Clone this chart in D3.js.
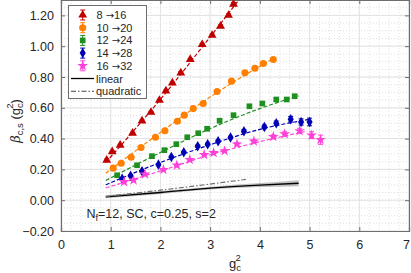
<!DOCTYPE html>
<html><head><meta charset="utf-8">
<script src="https://cdn.jsdelivr.net/npm/d3@7"></script>
<style>body{margin:0;background:#fff;}text{font-family:"Liberation Sans",Arial,sans-serif;}</style>
</head><body><svg id="c" width="411" height="273"></svg>
<script>
const seriesFrom = ["8","10","12","14","16"];
const seriesTo = ["16","20","24","28","32"];
const seriesColors = ["#c00000","#ff7f00","#1f8f1f","#0000b4","#ff40d8"];
const seriesSymbols = ["triangle","circle","square","diamond","star"];

const x816 = [0.92,1.03,1.19,1.44,1.63,1.81,1.98,2.11,2.24,2.41,2.60,2.84,3.04,3.21,3.37,3.47];
const y816 = [0.26,0.315,0.357,0.435,0.515,0.571,0.649,0.710,0.762,0.827,0.914,1.011,1.071,1.130,1.201,1.273];
const e816 = [0.008,0.006,0.006,0.006,0.006,0.006,0.006,0.006,0.006,0.007,0.007,0.008,0.008,0.009,0.009,0.01];

const x1020 = [1.05,1.21,1.41,1.61,1.90,2.09,2.34,2.48,2.66,2.86,3.14,3.43,3.70,3.90,4.07,4.27];
const y1020 = [0.208,0.240,0.279,0.342,0.409,0.451,0.513,0.552,0.595,0.628,0.706,0.773,0.827,0.857,0.888,0.914];
const e1020 = [0.005,0.005,0.005,0.005,0.005,0.005,0.005,0.006,0.006,0.006,0.006,0.007,0.007,0.008,0.008,0.009];

const x1224 = [1.13,1.53,1.83,2.08,2.32,2.54,2.76,2.94,3.19,3.47,3.79,4.05,4.33,4.54,4.70];
const y1224 = [0.162,0.227,0.286,0.325,0.364,0.409,0.435,0.464,0.516,0.552,0.610,0.628,0.654,0.654,0.675];
const e1224 = [0.005,0.005,0.005,0.005,0.005,0.005,0.006,0.006,0.006,0.007,0.008,0.009,0.01,0.01,0.012];

const x1428 = [1.23,1.40,1.63,1.96,2.22,2.47,2.75,2.95,3.16,3.41,3.68,4.09,4.33,4.62,4.83,5.00];
const y1428 = [0.140,0.159,0.188,0.231,0.281,0.312,0.351,0.364,0.383,0.407,0.448,0.476,0.500,0.526,0.508,0.508];
const e1428 = [0.005,0.005,0.005,0.006,0.006,0.006,0.007,0.007,0.008,0.008,0.01,0.012,0.014,0.018,0.02,0.025];

const x1632 = [1.27,1.46,1.69,2.06,2.33,2.59,2.88,3.07,3.29,3.54,3.88,4.27,4.50,4.80,5.04,5.22];
const y1632 = [0.119,0.130,0.169,0.198,0.227,0.263,0.295,0.308,0.320,0.364,0.383,0.412,0.430,0.450,0.422,0.393];
const e1632 = [0.005,0.005,0.005,0.006,0.006,0.006,0.007,0.007,0.008,0.009,0.01,0.012,0.014,0.017,0.022,0.03];

// fit curves (x, y)
const fitX816 = [0.9,2.0,3.0,3.6];   const fitY816 = [0.245,0.655,1.06,1.31];
const fitX1020 = [0.9,2.0,3.0,4.0,4.3]; const fitY1020 = [0.175,0.44,0.67,0.87,0.925];
const fitX1224 = [0.9,2.0,3.0,4.0,4.78]; const fitY1224 = [0.128,0.31,0.465,0.595,0.678];
const fitX1428 = [0.9,2.0,3.0,4.0,5.0]; const fitY1428 = [0.10,0.245,0.36,0.46,0.525];
const fitX1632 = [0.9,2.0,3.0,4.0,4.9]; const fitY1632 = [0.08,0.19,0.295,0.38,0.445];

const linX = [0.9,2.0,3.0,4.0,4.78]; const linY = [0.022,0.05,0.078,0.098,0.11]; const linE = [0.01,0.009,0.009,0.013,0.019];
const quadX = [0.9,2.0,3.0,3.72]; const quadY = [0.025,0.065,0.105,0.135];

const xTicks = [0,1,2,3,4,5,6,7];
const yTicks = [-0.2,0,0.2,0.4,0.6,0.8,1.0,1.2];

const series = [
  {x:x816,y:y816,e:e816,fx:fitX816,fy:fitY816},
  {x:x1020,y:y1020,e:e1020,fx:fitX1020,fy:fitY1020},
  {x:x1224,y:y1224,e:e1224,fx:fitX1224,fy:fitY1224},
  {x:x1428,y:y1428,e:e1428,fx:fitX1428,fy:fitY1428},
  {x:x1632,y:y1632,e:e1632,fx:fitX1632,fy:fitY1632}
];

const svg = d3.select("#c");
const L=61,R=409,T=0,B=231;
const x = d3.scaleLinear().domain([0,7]).range([L,R]);
const y = d3.scaleLinear().domain([-0.2,1.3]).range([B,T]);

svg.append("defs").append("clipPath").attr("id","clip").append("rect").attr("x",L).attr("y",T).attr("width",R-L).attr("height",B-T);

// minor grid
const g = svg.append("g");
g.selectAll(".mx").data(d3.range(0,7.001,0.2)).join("line")
  .attr("x1",d=>x(d)).attr("x2",d=>x(d)).attr("y1",T).attr("y2",B)
  .attr("stroke","#d8d8d8").attr("stroke-width",0.8).attr("stroke-dasharray","1,2");
g.selectAll(".my").data(d3.range(-0.2,1.3001,0.05)).join("line")
  .attr("y1",d=>y(d)).attr("y2",d=>y(d)).attr("x1",L).attr("x2",R)
  .attr("stroke","#d8d8d8").attr("stroke-width",0.8).attr("stroke-dasharray","1,2");
// major grid
g.selectAll(".Mx").data(xTicks).join("line")
  .attr("x1",d=>x(d)).attr("x2",d=>x(d)).attr("y1",T).attr("y2",B)
  .attr("stroke","#e2e2e2").attr("stroke-width",1);
g.selectAll(".My").data(yTicks.concat([1.3])).join("line")
  .attr("y1",d=>y(d)).attr("y2",d=>y(d)).attr("x1",L).attr("x2",R)
  .attr("stroke","#e2e2e2").attr("stroke-width",1);

// axes
const ax = svg.append("g").attr("transform",`translate(0,${B})`)
  .call(d3.axisBottom(x).tickValues(xTicks).tickSize(-4).tickPadding(9).tickFormat(d3.format("d")));
const ay = svg.append("g").attr("transform",`translate(${L},0)`)
  .call(d3.axisLeft(y).tickValues(yTicks).tickSize(-4).tickPadding(7).tickFormat(d=>d3.format(".2f")(d)));
const axT = svg.append("g").attr("transform",`translate(0,${T})`)
  .call(d3.axisTop(x).tickValues(xTicks).tickSize(-4).tickFormat(""));
const ayR = svg.append("g").attr("transform",`translate(${R},0)`)
  .call(d3.axisRight(y).tickValues(yTicks).tickSize(-4).tickFormat(""));
[ax,ay,axT,ayR].forEach(a=>{
  a.select(".domain").attr("stroke","#6e6e6e").attr("stroke-width",1.2);
  a.selectAll(".tick line").attr("stroke","#6e6e6e");
  a.selectAll("text").attr("font-size",12.5).attr("fill","#262626").attr("font-family","Liberation Sans, Arial, sans-serif");
});
ax.selectAll(".tick text").filter(d=>d===7).attr("dx",-3);

const plot = svg.append("g").attr("clip-path","url(#clip)");

// linear band & lines
const linData = linX.map((v,i)=>({x:v,y:linY[i],e:linE[i]}));
plot.append("path").datum(linData)
  .attr("d",d3.area().x(d=>x(d.x)).y0(d=>y(d.y-d.e)).y1(d=>y(d.y+d.e)).curve(d3.curveMonotoneX))
  .attr("fill","#9a9a9a").attr("opacity",0.6);
plot.append("path").datum(linData)
  .attr("d",d3.line().x(d=>x(d.x)).y(d=>y(d.y)).curve(d3.curveMonotoneX))
  .attr("fill","none").attr("stroke","#000").attr("stroke-width",1.3);
const quadData = quadX.map((v,i)=>({x:v,y:quadY[i]}));
plot.append("path").datum(quadData)
  .attr("d",d3.line().x(d=>x(d.x)).y(d=>y(d.y)).curve(d3.curveMonotoneX))
  .attr("fill","none").attr("stroke","#707070").attr("stroke-width",1.2).attr("stroke-dasharray","5,2,1.5,2");

// fits
series.forEach((s,i)=>{
  const fd = s.fx.map((v,j)=>({x:v,y:s.fy[j]}));
  plot.append("path").datum(fd)
    .attr("d",d3.line().x(d=>x(d.x)).y(d=>y(d.y)).curve(d3.curveMonotoneX))
    .attr("fill","none").attr("stroke",seriesColors[i]).attr("stroke-width",1.2).attr("stroke-dasharray","4,2");
});

const symMap = {triangle:[d3.symbolTriangle,34],circle:[d3.symbolCircle,40],square:[d3.symbolSquare,32],diamond:[d3.symbolDiamond,32],star:[d3.symbolStar,36]};

// points
series.forEach((s,i)=>{
  const pts = s.x.map((v,j)=>({x:v,y:s.y[j],e:s.e[j]}));
  const gg = plot.append("g");
  const c = seriesColors[i];
  pts.forEach(p=>{
    gg.append("line").attr("x1",x(p.x)).attr("x2",x(p.x)).attr("y1",y(p.y-p.e)).attr("y2",y(p.y+p.e)).attr("stroke",c).attr("stroke-width",1);
    [p.y-p.e,p.y+p.e].forEach(v=>gg.append("line").attr("x1",x(p.x)-2.5).attr("x2",x(p.x)+2.5).attr("y1",y(v)).attr("y2",y(v)).attr("stroke",c).attr("stroke-width",1));
  });
  const sm = symMap[seriesSymbols[i]];
  gg.selectAll("path.m").data(pts).join("path")
    .attr("d",d3.symbol().type(sm[0]).size(sm[1]))
    .attr("transform",d=>`translate(${x(d.x)},${y(d.y)})`)
    .attr("fill",c);
});

// legend
const lg = svg.append("g");
lg.append("rect").attr("x",68.5).attr("y",5.5).attr("width",78).attr("height",93).attr("fill","#fff").attr("stroke","#6e6e6e").attr("stroke-width",1);
const rowY = [15,27.7,40.4,53.1,65.8,78.5,91.2];
seriesFrom.forEach((n,i)=>{
  const yy=rowY[i], c=seriesColors[i], xx=82.7;
  lg.append("line").attr("x1",xx).attr("x2",xx).attr("y1",yy-5).attr("y2",yy+5).attr("stroke",c);
  lg.append("line").attr("x1",xx-2.5).attr("x2",xx+2.5).attr("y1",yy-5).attr("y2",yy-5).attr("stroke",c);
  lg.append("line").attr("x1",xx-2.5).attr("x2",xx+2.5).attr("y1",yy+5).attr("y2",yy+5).attr("stroke",c);
  const sm = symMap[seriesSymbols[i]];
  lg.append("path").attr("d",d3.symbol().type(sm[0]).size(sm[1])()).attr("transform",`translate(${xx},${yy})`).attr("fill",c);
  const t = lg.append("text").attr("x",96.5).attr("y",yy+4).attr("font-size",11).attr("fill","#262626");
  t.append("tspan").text(n + " ");
  t.append("tspan").attr("font-family","DejaVu Sans, sans-serif").attr("font-size",10).text("\u2192");
  t.append("tspan").text(seriesTo[i]);
});
lg.append("line").attr("x1",71).attr("x2",94).attr("y1",rowY[5]).attr("y2",rowY[5]).attr("stroke","#000").attr("stroke-width",1.3);
lg.append("text").attr("x",96).attr("y",rowY[5]+4).attr("font-size",11).attr("fill","#262626").text("linear");
lg.append("line").attr("x1",71).attr("x2",94).attr("y1",rowY[6]).attr("y2",rowY[6]).attr("stroke","#444").attr("stroke-width",1.1).attr("stroke-dasharray","5,2,1.5,2");
lg.append("text").attr("x",96).attr("y",rowY[6]+4).attr("font-size",11).attr("fill","#262626").text("quadratic");

// annotation
const an = svg.append("text").attr("x",86.5).attr("y",217.5).attr("font-size",12.5).attr("fill","#262626");
an.append("tspan").text("N");
an.append("tspan").attr("font-size",9).attr("dy",3).text("f");
an.append("tspan").attr("dy",-3).text("=12, SC, c=0.25, s=2");

// axis titles
const xt = svg.append("text").attr("x",235).attr("y",268).attr("text-anchor","middle").attr("font-size",13).attr("fill","#262626");
xt.append("tspan").text("g");
xt.append("tspan").attr("font-size",9.5).attr("dy",3).text("c");
xt.append("tspan").attr("font-size",9.5).attr("dx",-5.5).attr("dy",-10).text("2");

const yt = svg.append("text").attr("transform","translate(20,121) rotate(-90)").attr("text-anchor","middle").attr("font-size",13).attr("fill","#262626");
yt.append("tspan").attr("font-family","DejaVu Serif, serif").attr("font-style","italic").text("\u03b2");
yt.append("tspan").attr("font-size",9.5).attr("dy",3).text("c,s");
yt.append("tspan").attr("dy",-3).text(" (g");
yt.append("tspan").attr("font-size",9.5).attr("dy",3).text("c");
yt.append("tspan").attr("font-size",9.5).attr("dx",-5.5).attr("dy",-10).text("2");
yt.append("tspan").attr("dy",7).text(")");
</script></body></html>
